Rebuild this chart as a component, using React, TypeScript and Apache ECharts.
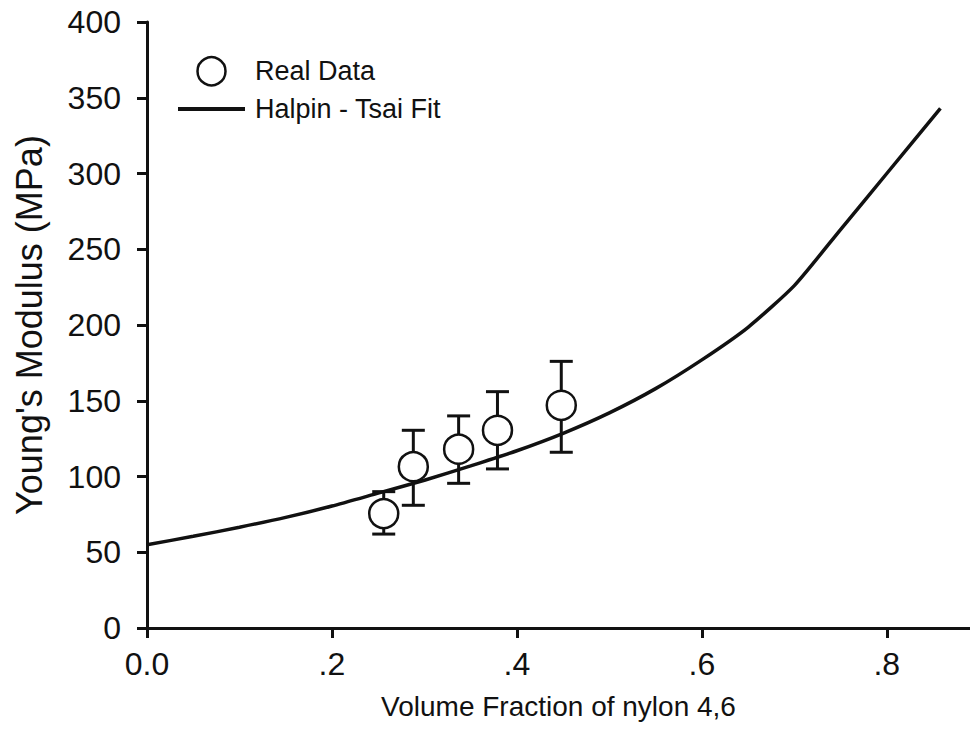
import React, { useEffect, useRef } from "react";
import * as echarts from "echarts";

const xTickValues = [0, 0.2, 0.4, 0.6, 0.8];
const yTickValues = [0, 50, 100, 150, 200, 250, 300, 350, 400];

const dataX = [0.256, 0.288, 0.337, 0.379, 0.448];
const dataY = [75.5, 106.5, 118, 130.5, 147];
const errLow = [62, 81, 95.5, 105, 116];
const errHigh = [90, 130.5, 140, 156, 176];

const fitX = [0, 0.05, 0.1, 0.15, 0.2, 0.25, 0.3, 0.35, 0.4, 0.45, 0.5, 0.55, 0.6, 0.65, 0.7, 0.75, 0.8, 0.858];
const fitY = [55, 60.5, 66.5, 73, 80.5, 89, 97.5, 107, 117, 128.5, 142, 158, 177, 198.5, 226, 263, 300, 343];

const FONT = "Liberation Sans, Arial, sans-serif";
const INK = "#111";

export default function App() {
  const ref = useRef<HTMLDivElement>(null);
  useEffect(() => {
    if (!ref.current) return;
    const chart = echarts.init(ref.current, null, { renderer: "svg" });
    const scatterData = dataX.map((x, i) => [x, dataY[i]]);
    const errData = dataX.map((x, i) => [x, errLow[i], errHigh[i]]);
    const fitData = fitX.map((x, i) => [x, fitY[i]]);
    chart.setOption({
      animation: false,
      backgroundColor: "#fff",
      grid: { left: 147, right: 0, top: 22, bottom: 124, containLabel: false },
      legend: {
        orient: "vertical",
        left: 173,
        top: 51,
        itemWidth: 67,
        itemHeight: 28,
        itemGap: 9,
        data: [
          { name: "Real Data" },
          { name: "Halpin - Tsai Fit", icon: "path://M0,0 L67,0 L67,4 L0,4 Z" },
        ],
        textStyle: { fontFamily: FONT, fontSize: 27, color: INK, padding: [0, 0, 0, 5] },
        itemStyle: { borderWidth: 2.5 },
      },
      xAxis: [
        {
          type: "value",
          min: 0,
          max: 0.89,
          position: "bottom",
          name: "Volume Fraction of nylon 4,6",
          nameLocation: "middle",
          nameGap: 64,
          nameTextStyle: { fontFamily: FONT, fontSize: 28, color: INK },
          axisLine: { show: true, onZero: false, lineStyle: { color: INK, width: 3 } },
          axisTick: { show: true, inside: false, length: 10, lineStyle: { color: INK, width: 3 }, customValues: xTickValues },
          axisLabel: {
            show: true,
            margin: 20,
            fontFamily: FONT,
            fontSize: 32,
            color: INK,
            customValues: xTickValues,
            formatter: (v: number) => (v === 0 ? "0.0" : v.toFixed(1).replace(/^0/, "")),
          },
          splitLine: { show: false },
        },
        {
          type: "value",
          min: 0,
          max: 0.89,
          position: "top",
          axisLine: { show: true, lineStyle: { color: INK, width: 3 } },
          axisTick: { show: false },
          axisLabel: { show: false },
          splitLine: { show: false },
        },
      ],
      yAxis: {
        type: "value",
        min: 0,
        max: 400,
        interval: 50,
        name: "Young's Modulus (MPa)",
        nameLocation: "middle",
        nameGap: 100,
        nameTextStyle: { fontFamily: FONT, fontSize: 36, color: INK },
        axisLine: { show: true, lineStyle: { color: INK, width: 3 } },
        axisTick: { show: true, inside: false, length: 10, lineStyle: { color: INK, width: 3 }, customValues: yTickValues },
        axisLabel: { margin: 26, fontFamily: FONT, fontSize: 32, color: INK },
        splitLine: { show: false },
      },
      series: [
        {
          name: "errors",
          type: "custom",
          z: 2,
          data: errData,
          encode: { x: 0, y: [1, 2] },
          renderItem: (params: any, api: any) => {
            const x = api.value(0);
            const pLo = api.coord([x, api.value(1)]);
            const pHi = api.coord([x, api.value(2)]);
            const hw = 11.5;
            const st = { stroke: INK, lineWidth: 3 };
            return {
              type: "group",
              children: [
                { type: "line", shape: { x1: pLo[0], y1: pLo[1], x2: pHi[0], y2: pHi[1] }, style: st },
                { type: "line", shape: { x1: pLo[0] - hw, y1: pLo[1], x2: pLo[0] + hw, y2: pLo[1] }, style: st },
                { type: "line", shape: { x1: pHi[0] - hw, y1: pHi[1], x2: pHi[0] + hw, y2: pHi[1] }, style: st },
              ],
            };
          },
        },
        {
          name: "Halpin - Tsai Fit",
          type: "line",
          z: 3,
          data: fitData,
          symbol: "none",
          smooth: 0.2,
          lineStyle: { color: INK, width: 3.5 },
          itemStyle: { color: INK },
        },
        {
          name: "Real Data",
          type: "scatter",
          z: 4,
          data: scatterData,
          symbol: "circle",
          symbolSize: 29,
          itemStyle: { color: "#fff", borderColor: INK, borderWidth: 2.5, opacity: 1 },
        },
      ],
    });
    return () => chart.dispose();
  }, []);
  return <div ref={ref} style={{ position: "absolute", left: 0, top: 0, width: 970, height: 752 }} />;
}
